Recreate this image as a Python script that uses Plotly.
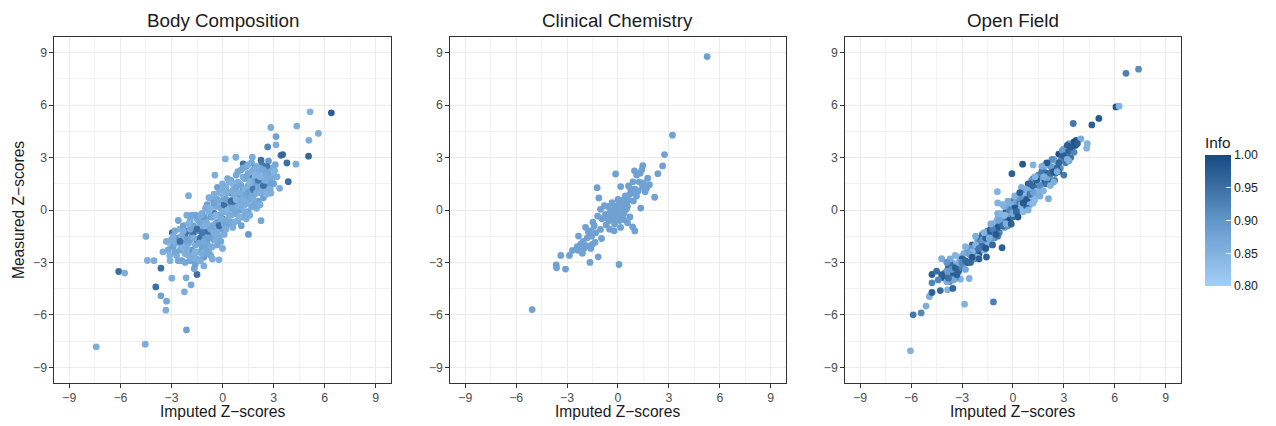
import plotly.graph_objects as go

panel_titles = ["Body Composition", "Clinical Chemistry", "Open Field"]
tick_vals = [-9, -6, -3, 0, 3, 6, 9]
info_ticks = [0.80, 0.85, 0.90, 0.95, 1.00]

# (imputed, measured, info)
body_comp = [
    (-7.42,-7.83,.86),(-4.54,-7.68,.86),(-2.12,-6.86,.88),(-6.10,-3.52,.95),(-5.75,-3.61,.86),
    (-4.50,-1.51,.86),(-4.42,-2.89,.86),(-4.03,-2.90,.86),(-3.62,-3.33,.95),(-3.92,-4.40,.95),
    (-3.62,-4.91,.88),(-3.29,-5.22,.87),(-3.33,-5.73,.86),(-2.98,-3.90,.86),(-3.08,-2.90,.85),
    (-2.24,-4.68,.86),(-1.85,-4.28,.87),(-2.14,-3.88,.86),(-1.50,-3.69,.95),(-1.66,-3.36,.87),
    (-0.21,-2.85,.86),(-2.00,0.82,.86),(0.16,2.92,.85),(0.78,3.02,.86),(-0.45,2.00,.86),
    (1.21,2.64,.95),(1.75,3.02,.86),(2.26,2.85,.95),(2.84,4.72,.86),(3.14,4.20,.88),
    (3.14,3.73,.86),(2.65,3.61,.92),(3.43,3.13,.95),(3.53,3.17,.96),(3.78,2.69,.95),
    (4.31,2.62,.86),(3.86,1.62,.95),(3.35,1.24,.86),(2.84,0.97,.86),(4.36,4.80,.86),
    (5.14,5.62,.85),(5.07,3.99,.86),(5.63,4.38,.86),(5.05,3.08,.96),(6.39,5.56,.97),
    (2.26,-0.61,.87),(1.52,-1.40,.89),(3.06,2.24,.86),(2.92,1.78,.85),(-2.95,-1.30,.96),
    (-3.05,-2.00,.84),
    (-3.2,-2.3,.87),(-3.0,-1.7,.86),(-2.9,-2.1,.88),(-2.8,-1.2,.87),(-2.7,-2.6,.86),
    (-2.6,-1.6,.89),(-2.5,-2.3,.87),(-2.5,-1.1,.86),(-2.4,-2.9,.88),(-2.3,-1.9,.87),
    (-2.3,-0.9,.88),(-2.2,-2.5,.86),(-2.2,-1.4,.94),(-2.1,-0.3,.86),(-2.0,-1.9,.87),
    (-2.0,-1.2,.95),(-1.9,-2.9,.87),(-1.9,-0.6,.86),(-1.8,-1.5,.88),(-1.8,-2.3,.89),
    (-1.7,-1.3,.95),(-1.7,-0.9,.87),(-1.6,-2.0,.86),(-1.6,-3.1,.88),(-1.5,-1.7,.94),
    (-1.5,-0.5,.86),(-1.4,-2.4,.87),(-1.4,-1.2,.88),(-1.3,-0.8,.87),(-1.3,-1.6,.95),
    (-1.2,-2.1,.88),(-1.2,-0.2,.86),(-1.1,-1.1,.87),(-1.1,-2.7,.89),(-1.0,-1.5,.88),
    (-1.0,-0.6,.86),(-0.9,-1.9,.87),(-0.9,0.3,.88),(-0.8,-1.0,.87),(-0.8,-2.3,.86),
    (-0.7,-0.4,.89),(-0.7,-1.4,.93),(-0.6,-0.9,.87),(-0.6,0.6,.86),(-0.5,-1.7,.88),
    (-0.5,-0.2,.95),(-0.4,-1.2,.87),(-0.4,0.2,.86),(-0.3,-0.7,.88),(-0.3,-2.0,.87),
    (-0.2,0.5,.86),(-0.2,-0.3,.89),(-0.1,-1.0,.87),(-0.1,1.0,.88),(0.0,-0.5,.94),
    (0.0,0.2,.87),(0.1,-1.4,.86),(0.1,0.7,.88),(0.2,-0.1,.87),(0.2,1.3,.86),
    (0.3,-0.8,.89),(0.3,0.4,.87),(0.4,1.0,.95),(0.4,-0.3,.86),(0.5,0.1,.88),
    (0.5,1.7,.87),(0.6,-1.0,.86),(0.6,0.6,.89),(0.7,1.3,.87),(0.7,-0.2,.88),
    (0.8,0.3,.86),(0.8,2.0,.87),(0.9,0.9,.94),(0.9,-0.6,.87),(1.0,1.5,.86),
    (1.0,0.0,.88),(1.1,0.6,.87),(1.1,2.3,.86),(1.2,1.1,.95),(1.2,-0.4,.87),
    (1.3,1.8,.88),(1.3,0.3,.86),(1.4,0.9,.87),(1.4,2.5,.89),(1.5,1.4,.86),
    (1.5,-0.1,.88),(1.6,0.6,.87),(1.6,2.0,.94),(1.7,1.2,.86),(1.7,2.7,.87),
    (1.8,0.2,.88),(1.8,1.7,.87),(1.9,0.9,.86),(1.9,2.4,.95),(2.0,1.4,.87),
    (2.1,0.5,.88),(2.1,2.1,.86),(2.2,1.0,.87),(2.3,2.6,.94),(2.3,1.6,.86),
    (2.4,0.7,.88),(2.5,2.2,.87),(2.6,1.3,.86),(2.7,2.8,.89),(2.8,1.8,.87),
    (2.9,2.4,.86),(3.0,1.5,.88),
    (-2.6,-0.6,.87),(-2.4,-1.5,.86),(-2.1,-1.7,.88),(-1.9,-1.1,.87),(-1.7,-2.6,.86),
    (-1.6,-0.3,.88),(-1.4,-0.6,.87),(-1.3,-2.9,.86),(-1.1,-0.4,.89),(-1.0,-2.2,.87),
    (-0.9,-1.2,.95),(-0.8,-0.1,.86),(-0.7,-2.6,.87),(-0.6,-1.6,.88),(-0.5,0.9,.86),
    (-0.4,-0.8,.87),(-0.3,1.3,.88),(-0.2,-1.5,.86),(-0.1,0.1,.87),(0.0,1.5,.86),
    (0.0,-1.1,.88),(0.1,0.3,.95),(0.2,-0.6,.86),(0.3,1.8,.87),(0.4,0.5,.88),
    (0.5,-0.7,.87),(0.6,1.1,.86),(0.7,0.4,.94),(0.8,-0.2,.87),(0.9,1.6,.86),
    (1.0,0.5,.87),(1.1,-0.9,.88),(1.2,1.9,.86),(1.3,0.8,.87),(1.4,-0.5,.86),
    (1.5,2.1,.87),(1.6,1.0,.95),(1.7,0.2,.87),(1.8,2.3,.86),(1.9,1.5,.88),
    (2.0,0.1,.86),(2.1,1.7,.94),(2.2,2.4,.87),(2.4,1.9,.86),(2.5,1.0,.87),
    (2.6,2.5,.94),(2.7,1.5,.88),(2.9,2.0,.86),(3.1,2.6,.87),(3.2,1.9,.86),
    (-2.7,-1.9,.86),(-2.6,-2.9,.87),(-2.4,-2.1,.85),(-2.3,-1.2,.86),(-2.2,-3.0,.87),
    (-2.1,-2.2,.86),(-2.0,-0.8,.85),(-1.9,-1.7,.88),(-1.8,-2.7,.86),(-1.8,-0.3,.87),
    (-1.7,-1.6,.86),(-1.6,-2.4,.85),(-1.5,-1.1,.95),(-1.5,-2.8,.86),(-1.4,-1.9,.87),
    (-1.3,-0.3,.86),(-1.2,-1.3,.94),(-1.2,-2.5,.86),(-1.1,-1.8,.87),(-1.0,-0.9,.85),
    (-1.0,0.1,.86),(-0.9,-2.5,.87),(-0.9,-0.8,.86),(-0.8,-1.6,.88),(-0.8,0.7,.86),
    (-0.7,-1.1,.87),(-0.7,0.1,.85),(-0.6,-2.1,.86),(-0.6,-0.4,.87),(-0.5,-1.3,.86),
    (-0.5,0.4,.88),(-0.4,-1.7,.86),(-0.4,-0.3,.85),(-0.3,0.6,.87),(-0.3,-1.3,.86),
    (-0.2,-0.9,.95),(-0.2,1.0,.86),(-0.1,-0.5,.86),(-0.1,-1.8,.87),(0.0,0.9,.85),
    (0.0,-0.1,.86),(0.1,-0.8,.87),(0.1,1.2,.86),(0.2,0.6,.88),(0.2,-1.1,.86),
    (0.3,0.0,.85),(0.3,1.0,.86),(0.4,-0.7,.87),(0.4,1.6,.86),(0.5,0.5,.95),
    (0.5,-0.3,.86),(0.6,1.5,.85),(0.6,0.1,.87),(0.7,0.9,.86),(0.7,-0.7,.86),
    (0.8,1.3,.87),(0.8,0.6,.85),(0.9,0.2,.86),(0.9,2.2,.87),(1.0,1.0,.86),
    (1.0,-0.4,.85),(1.1,1.4,.87),(1.1,0.2,.86),(1.2,0.6,.86),(1.2,2.4,.87),
    (1.3,1.2,.85),(1.3,-0.1,.86),(1.4,1.9,.87),(1.4,0.4,.86),(1.5,1.0,.88),
    (1.5,2.6,.86),(1.6,1.6,.85),(1.6,-0.3,.86),(1.7,0.8,.87),(1.7,2.2,.86),
    (1.8,1.2,.94),(1.8,0.6,.86),(1.9,2.0,.85),(1.9,0.3,.87),(2.0,1.0,.86),
    (2.0,2.5,.86),(2.1,1.3,.87),(2.2,1.9,.85),(2.2,0.3,.86),(2.3,1.1,.86),
    (2.4,2.3,.87),(2.4,1.4,.95),(2.5,1.7,.86),(2.6,0.9,.85),(2.6,2.0,.86),
    (2.8,2.2,.87),(2.8,1.2,.86),(3.0,2.2,.85),(-3.3,-1.8,.86),(-3.1,-2.6,.85),
    (-2.9,-1.5,.86),(-2.8,-2.4,.87),(-3.5,-2.4,.86),(-2.5,-1.8,.95),(-2.0,-2.6,.86),
    (-1.1,-3.2,.86),(-0.6,-2.8,.86),(0.0,-2.2,.86),
]

clin_chem = [
    (5.25,8.78,.88),(3.21,4.28,.88),(2.74,3.17,.88),(2.63,2.52,.88),(2.35,2.08,.88),
    (2.16,0.73,.88),(1.69,1.26,.88),(1.75,1.82,.88),(1.46,2.54,.88),(1.40,2.30,.88),
    (0.97,2.24,.88),(-0.14,2.06,.88),(0.16,1.34,.88),(-1.23,1.28,.88),(-1.13,0.69,.88),
    (1.34,0.11,.88),(0.99,-1.20,.88),(0.06,-3.12,.88),(-1.17,-2.68,.88),(-1.65,-3.00,.88),
    (-3.09,-3.38,.88),(-3.64,-3.14,.88),(-3.62,-3.31,.88),(-3.37,-2.60,.88),(-2.86,-2.60,.88),
    (-2.68,-2.31,.88),(-2.35,-2.31,.88),(-2.10,-2.48,.88),(-2.00,-2.20,.88),(-2.33,-1.49,.88),
    (-5.06,-5.70,.88),(-1.91,-0.99,.88),(-1.48,-0.69,.88),(-0.97,-1.63,.88),(-0.23,-1.19,.88),
    (0.56,-0.73,.88),(0.86,-0.96,.88),(-0.35,0.42,.88),(0.04,0.57,.88),(0.43,0.80,.88),
    (0.62,1.38,.88),(0.88,1.61,.88),(0.99,1.19,.88),(0.70,0.90,.88),(1.09,0.80,.88),
    (0.91,0.52,.88),(0.49,0.04,.88),(-1.03,0.04,.88),(-0.74,-0.25,.88),(-0.54,-0.63,.88),
    (-0.35,-0.34,.88),(-0.16,-0.54,.88),(0.14,-0.34,.88),(0.33,-0.54,.88),(-1.61,-1.20,.88),
    (-1.81,-1.59,.88),(-1.52,-1.97,.88),(-1.32,-1.30,.88),(-1.03,-1.11,.88),(-1.40,-0.90,.88),
    (0.25,0.10,.88),(-0.05,-0.05,.88),(0.10,-0.60,.88),(-0.20,-0.80,.88),(0.35,-0.20,.88),
    (-0.45,-0.10,.88),(0.20,0.35,.88),(-0.60,0.20,.88),(0.05,0.25,.88),(-0.25,0.05,.88),
    (0.45,0.35,.88),(0.60,0.55,.88),(0.80,1.00,.88),(1.20,1.10,.88),(1.25,1.60,.88),
    (1.45,1.35,.88),(1.60,1.05,.88),(1.10,2.00,.88),(1.30,2.10,.88),(0.75,1.20,.88),
    (-0.80,0.25,.88),(-0.95,-0.50,.88),(-1.20,-0.35,.88),(-1.55,-1.50,.88),(-1.75,-1.25,.88),
    (-2.05,-1.80,.88),(-2.20,-1.95,.88),(-1.60,-2.20,.88),(-1.35,-1.85,.88),(-1.85,-2.05,.88),
    (-0.70,-0.85,.88),(-0.50,-1.10,.88),(-0.10,-0.20,.88),(0.15,-1.00,.88),(0.70,-0.40,.88),
    (1.50,1.55,.88),(1.85,1.45,.88),(-0.30,-0.55,.88),(0.00,0.60,.88),(-2.40,-2.10,.88),
    (-0.15,0.20,.88),(0.30,0.55,.88),(-0.40,-0.30,.88),(0.10,0.05,.88),(-0.25,-0.25,.88),
    (0.55,0.20,.88),(0.20,-0.30,.88),(-0.65,-0.45,.88),
]

open_field = [
    (-6.04,-8.06,.85),(-5.88,-6.00,.94),(-5.41,-5.89,.92),(-5.12,-5.50,.86),(-4.92,-4.95,.86),
    (-4.77,-4.72,.97),(-4.77,-4.17,.92),(-4.77,-3.69,.97),(-4.28,-4.61,.96),(-4.20,-2.79,.86),
    (-3.85,-4.57,.85),(-3.54,-4.49,.96),(-4.08,-3.88,.98),(-3.73,-4.10,.91),(-3.09,-3.96,.85),
    (-2.58,-3.92,.85),(-2.85,-5.39,.85),(-1.15,-5.26,.93),(-0.64,-2.16,.97),(-1.56,-2.69,.97),
    (-0.92,1.05,.85),(-0.06,2.08,.97),(0.57,2.62,.98),(1.19,2.58,.85),(3.55,4.95,.94),
    (3.73,3.99,.98),(4.00,4.07,.86),(4.38,3.80,.85),(4.34,3.54,.85),(4.65,4.87,.97),
    (5.06,5.24,.98),(6.07,5.90,.99),(6.25,5.94,.85),(6.66,7.82,.93),(7.40,8.06,.91),
    (3.32,3.73,.98),(3.00,2.00,.94),(2.46,1.70,.93),(2.09,0.65,.86),(1.20,1.40,.85),
    (-4.0,-3.6,.93),(-3.9,-4.1,.86),(-3.8,-3.3,.97),(-3.7,-3.8,.90),(-3.6,-3.0,.85),
    (-3.5,-3.6,.98),(-3.4,-3.9,.92),(-3.3,-3.2,.88),(-3.2,-3.5,.96),(-3.1,-2.7,.84),
    (-3.0,-3.3,.93),(-2.9,-2.9,.99),(-2.8,-3.4,.87),(-2.7,-2.4,.91),(-2.6,-3.0,.95),
    (-2.5,-2.6,.85),(-2.4,-2.0,.97),(-2.3,-2.8,.90),(-2.2,-2.3,.93),(-2.1,-1.7,.86),
    (-2.0,-2.5,.98),(-1.9,-2.0,.88),(-1.8,-1.4,.94),(-1.7,-2.3,.85),(-1.6,-1.8,.99),
    (-1.5,-1.2,.91),(-1.4,-1.9,.87),(-1.3,-1.5,.96),(-1.2,-0.8,.84),(-1.1,-1.6,.93),
    (-1.0,-1.1,.97),(-0.9,-0.5,.86),(-0.8,-1.3,.92),(-0.7,-0.8,.98),(-0.6,-0.2,.85),
    (-0.5,-1.0,.90),(-0.4,-0.5,.95),(-0.3,0.1,.87),(-0.2,-0.6,.99),(-0.1,-0.1,.89),
    (0.0,0.5,.93),(0.1,-0.3,.86),(0.2,0.2,.97),(0.3,0.8,.91),(0.4,0.0,.84),
    (0.5,0.6,.96),(0.6,1.2,.88),(0.7,0.4,.94),(0.8,0.9,.85),(0.9,1.5,.98),
    (1.0,0.7,.90),(1.1,1.2,.87),(1.2,1.8,.95),(1.3,0.9,.86),(1.4,1.5,.99),
    (1.5,2.0,.92),(1.6,1.2,.85),(1.7,1.8,.96),(1.8,2.3,.89),(1.9,1.5,.93),
    (2.0,2.1,.97),(2.1,2.6,.86),(2.2,1.8,.91),(2.3,2.4,.98),(2.4,2.9,.88),
    (2.5,2.1,.95),(2.6,2.7,.84),(2.7,3.2,.99),(2.8,2.4,.90),(2.9,3.0,.96),
    (3.0,3.5,.87),(3.1,2.7,.93),(3.2,3.3,.98),(3.3,3.8,.89),(3.4,3.0,.95),
    (-3.9,-3.5,.89),(-3.7,-3.1,.95),(-3.5,-4.0,.87),(-3.3,-3.7,.97),(-3.1,-3.1,.91),
    (-2.9,-2.5,.86),(-2.7,-3.0,.98),(-2.5,-2.2,.90),(-2.3,-2.5,.94),(-2.1,-2.7,.85),
    (-1.9,-1.6,.97),(-1.7,-1.9,.92),(-1.5,-2.0,.86),(-1.3,-1.1,.99),(-1.1,-1.3,.88),
    (-0.9,-1.5,.94),(-0.7,-0.4,.85),(-0.5,-0.7,.97),(-0.3,-0.9,.91),(-0.1,0.3,.86),
    (0.1,0.1,.98),(0.3,-0.1,.89),(0.5,1.0,.93),(0.7,0.8,.84),(0.9,0.4,.96),
    (1.1,1.7,.90),(1.3,1.3,.97),(1.5,1.0,.86),(1.7,2.2,.94),(1.9,1.9,.88),
    (2.1,1.6,.99),(2.3,2.9,.91),(2.5,2.5,.85),(2.7,2.2,.97),(2.9,3.4,.89),
    (3.1,3.1,.94),(3.3,2.8,.86),(3.5,3.6,.98),
    (-2.0,-1.9,.92),(-1.8,-2.1,.96),(-1.6,-1.4,.86),(-1.4,-1.3,.98),(-1.2,-1.6,.90),
    (-1.0,-0.7,.85),(-0.8,-0.9,.95),(-0.6,-0.7,.91),(-0.4,-0.1,.97),(-0.2,-0.2,.87),
    (0.0,0.0,.99),(0.2,0.5,.88),(0.4,0.4,.94),(0.6,0.7,.86),(0.8,0.6,.98),
    (1.0,1.1,.90),(1.2,1.3,.96),(1.4,1.1,.85),(1.6,1.7,.93),(1.8,1.6,.97),
    (2.0,1.8,.87),(2.2,2.1,.95),(-1.5,-1.6,.84),(-0.5,-0.3,.84),(0.5,0.3,.85),
    (1.5,1.6,.84),(0.0,-0.4,.95),(0.9,1.1,.84),(-0.9,-1.0,.98),(2.6,2.4,.96),
    (3.0,2.9,.98),(-3.0,-2.8,.97),(-2.4,-2.4,.84),(1.1,0.8,.85),(1.3,0.6,.84),
    (1.0,0.3,.85),
    (-3.8,-3.9,.95),(-3.6,-3.4,.90),(-3.4,-3.3,.97),(-3.2,-3.0,.86),(-3.0,-3.0,.92),
    (-2.8,-2.9,.96),(-2.6,-2.5,.88),(-2.4,-2.7,.98),(-2.2,-2.0,.85),(-2.0,-2.2,.94),
    (-1.8,-1.7,.90),(-1.6,-1.6,.97),(-1.4,-1.6,.86),(-1.2,-1.1,.93),(-1.0,-1.4,.98),
    (-0.8,-0.6,.88),(-0.6,-0.9,.95),(-0.4,-0.8,.86),(-0.2,0.0,.92),(0.0,-0.2,.87),
    (0.2,-0.1,.96),(0.4,0.7,.90),(0.6,0.4,.98),(0.8,1.2,.86),(1.0,0.9,.94),
    (1.2,1.0,.88),(1.4,1.7,.97),(1.6,1.4,.91),(1.8,1.9,.86),(2.0,1.5,.95),
    (2.2,2.5,.89),(2.4,2.2,.98),(2.6,2.2,.86),(2.8,2.8,.93),(3.0,3.1,.97),
    (3.2,2.9,.85),(3.4,3.4,.96),(3.6,3.3,.92),(3.7,3.7,.98),(-1.7,-1.3,.85),
    (-1.3,-0.8,.86),(-0.9,-0.2,.85),(-0.5,0.2,.86),(0.1,0.8,.85),(0.5,1.3,.86),
    (1.3,1.9,.85),(1.9,2.6,.85),(-0.1,-0.8,.97),(0.3,-0.4,.98),(0.8,0.1,.97),
    (1.6,0.8,.86),(1.8,1.1,.85),(2.2,1.4,.85),(2.4,1.6,.86),(-2.5,-3.0,.96),
    (-2.0,-2.8,.97),(-1.2,-2.0,.96),(-1.6,-2.2,.98),(-3.4,-2.6,.85),(-3.7,-2.8,.86),
    (-3.9,-3.0,.90),(-4.2,-3.7,.97),(-4.4,-4.0,.92),(-4.5,-3.5,.95),(-2.2,-1.5,.86),
    (-2.8,-2.1,.85),(0.6,-0.1,.84),(0.9,0.0,.85),(1.2,0.4,.84),(-0.3,0.5,.86),
    (-0.6,0.3,.85),(-0.9,0.4,.85),(2.7,2.7,.96),(3.2,3.7,.97),(3.4,3.6,.98),
    (3.6,3.9,.99),(3.8,3.8,.97),(2.0,2.7,.98),(1.7,2.5,.86),(1.0,1.5,.96),
    (0.4,1.0,.97),
]

panels = [body_comp, clin_chem, open_field]

# page has an 8px body margin; figure coordinates = page coordinates - 8
W, H = 1268, 418
ML, MR, MT, MB = 46, 92, 29, 43
PW = W - ML - MR
PH = H - MT - MB
domains_px = [(46, 384), (443, 780), (839, 1176)]
domains = [((a - ML) / PW, (b - ML) / PW) for a, b in domains_px]

FONT = "Liberation Sans, Arial, Helvetica"

fig = go.Figure()
for i, pts in enumerate(panels):
    sfx = "" if i == 0 else str(i + 1)
    fig.add_trace(go.Scatter(
        x=[p[0] for p in pts], y=[p[1] for p in pts],
        mode="markers",
        marker=dict(size=6.8, color=[p[2] for p in pts], coloraxis="coloraxis", line=dict(width=0)),
        xaxis="x" + sfx, yaxis="y" + sfx, showlegend=False,
        hovertemplate="%{x}, %{y}<extra></extra>",
    ))

axis_common = dict(
    range=[-9.9, 9.9], tickvals=tick_vals, ticks="outside", ticklen=3.5, tickwidth=1,
    tickcolor="#333333", showline=True, linecolor="#333333", linewidth=1.1, mirror=True,
    showgrid=True, gridcolor="#ebebeb", gridwidth=1.2, zeroline=False,
    tickfont=dict(family=FONT, size=12.3, color="#4d4d4d"),
    minor=dict(tickvals=[-7.5, -4.5, -1.5, 1.5, 4.5, 7.5], showgrid=True,
               gridcolor="#f2f2f2", gridwidth=0.6, ticks=""),
)

bar_top, bar_bot = 150, 278
layout = dict(
    width=W, height=H, margin=dict(l=ML, r=MR, t=MT, b=MB), autosize=False,
    paper_bgcolor="white", plot_bgcolor="white",
    font=dict(family=FONT, color="#1a1a1a"),
    coloraxis=dict(
        cmin=0.8, cmax=1.0,
        colorscale=[[0, "#a2cff6"], [0.5, "#6296c9"], [1, "#164a80"]],
        colorbar=dict(
            title=dict(text="Info", side="top", font=dict(size=15.4, color="#1a1a1a")),
            tickvals=info_ticks, ticktext=["0.80", "0.85", "0.90", "0.95", "1.00"],
            ticks="inside", tickcolor="white", ticklen=5, tickwidth=1,
            tickfont=dict(size=12.3, color="#1a1a1a"),
            thickness=26, thicknessmode="pixels",
            len=(bar_bot - bar_top) + 25, lenmode="pixels",
            x=(1200 - ML) / PW, xanchor="left", xpad=0,
            y=1 - (bar_bot - MT) / PH, yanchor="bottom", ypad=0,
            outlinewidth=0,
        ),
    ),
)
for i in range(3):
    sfx = "" if i == 0 else str(i + 1)
    layout["xaxis" + sfx] = dict(axis_common, domain=list(domains[i]), anchor="y" + sfx)
    layout["yaxis" + sfx] = dict(axis_common, domain=[0, 1], anchor="x" + sfx)

fig.update_layout(**layout)

for i, t in enumerate(panel_titles):
    cx = (domains[i][0] + domains[i][1]) / 2
    fig.add_annotation(text=t, x=cx, y=1 + (MT - 12) / PH, xref="paper", yref="paper",
                       showarrow=False, xanchor="center", yanchor="middle",
                       font=dict(size=18.8, color="#1a1a1a"))
    fig.add_annotation(text="Imputed Z\u2212scores", x=cx, y=-(403 - (H - MB)) / PH,
                       xref="paper", yref="paper", showarrow=False,
                       xanchor="center", yanchor="middle",
                       font=dict(size=15.6, color="#1a1a1a"))
fig.add_annotation(text="Measured Z\u2212scores", x=(10 - ML) / PW, y=0.5, xref="paper", yref="paper",
                   showarrow=False, textangle=-90, xanchor="center", yanchor="middle",
                   font=dict(size=15.6, color="#1a1a1a"))

fig.write_html("out.html")
